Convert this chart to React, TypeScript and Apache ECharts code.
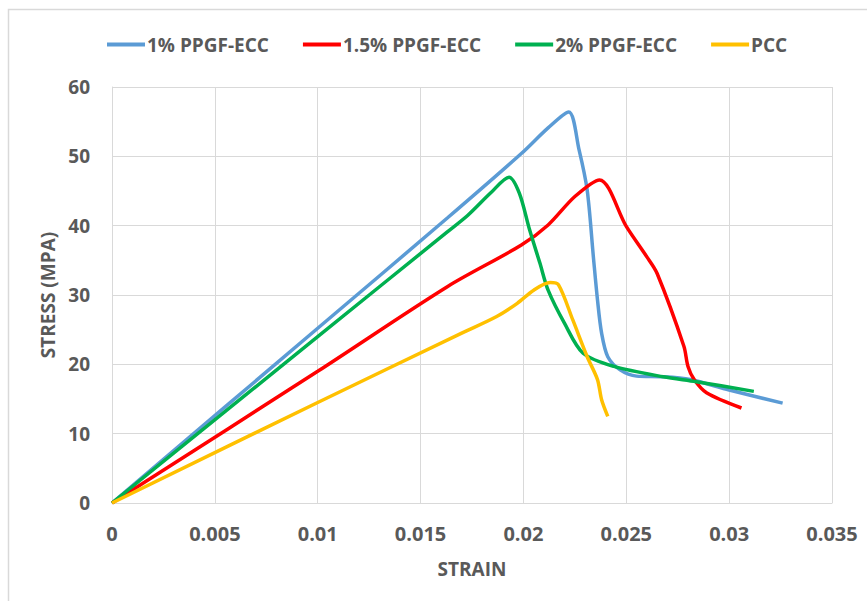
import React, { useEffect, useRef } from "react";
import * as echarts from "echarts";

const seriesNames = ["1% PPGF-ECC", "1.5% PPGF-ECC", "2% PPGF-ECC", "PCC"];
const colors = ["#5b9bd5", "#ff0000", "#00b050", "#ffc000"];

const ecc1: [number, number][] = [
  [0, 0], [0.01, 25.2], [0.0163, 41.1], [0.0199, 50.4], [0.0212, 54.1],
  [0.0222, 56.4], [0.0227, 51], [0.0231, 45.1], [0.0234, 35.5], [0.0236, 29.3],
  [0.0238, 24.5], [0.0241, 21.1], [0.0247, 19.2], [0.0255, 18.3], [0.0268, 18.2],
  [0.0281, 17.8], [0.03, 16.3], [0.0326, 14.4],
];
const ecc15: [number, number][] = [
  [0, 0], [0.01, 19], [0.0163, 31.2], [0.0199, 37.2], [0.0212, 40.1],
  [0.0225, 44.2], [0.0237, 46.6], [0.025, 39.9], [0.026, 35.5], [0.0265, 33.1],
  [0.0278, 22.6], [0.028, 19.7], [0.0283, 17.8], [0.0289, 15.9], [0.0306, 13.7],
];
const ecc2: [number, number][] = [
  [0, 0], [0.01, 24], [0.0163, 39.1], [0.0173, 41.5], [0.0184, 44.7],
  [0.0193, 47.0], [0.0198, 44.7], [0.0203, 39.4], [0.0208, 34.6], [0.0212, 30.7],
  [0.022, 25.9], [0.0229, 21.6], [0.0244, 19.7], [0.0268, 18.2], [0.0284, 17.5],
  [0.0312, 16.1],
];
const pcc: [number, number][] = [
  [0, 0], [0.01, 14.5], [0.017, 24.5], [0.0187, 26.9], [0.0197, 28.8],
  [0.0205, 30.7], [0.0213, 31.8], [0.0217, 31.5], [0.0224, 26.4], [0.0231, 21.1],
  [0.0236, 17.8], [0.0238, 14.9], [0.0241, 12.5],
];
const allData = [ecc1, ecc15, ecc2, pcc];

const xTicks = [0, 0.005, 0.01, 0.015, 0.02, 0.025, 0.03, 0.035];
const yTicks = [0, 10, 20, 30, 40, 50, 60];

const FONT = "'Open Sans', 'Liberation Sans', sans-serif";
const TEXT = "#595959";
const GRID = "#d9d9d9";

export default function App() {
  const ref = useRef<HTMLDivElement>(null);
  useEffect(() => {
    if (!ref.current) return;
    const chart = echarts.init(ref.current, undefined, { renderer: "svg" });
    chart.setOption({
      animation: false,
      backgroundColor: "#ffffff",
      textStyle: { fontFamily: FONT },
      graphic: [
        {
          type: "rect",
          shape: { x: 8.5, y: 9.5, width: 900, height: 700 },
          style: { fill: "none", stroke: "#d9d9d9", lineWidth: 1.5 },
          silent: true,
          z: -10,
        },
      ],
      legend: {
        top: 30,
        left: 102,
        itemWidth: 38,
        itemHeight: 4,
        itemGap: 34,
        icon: "rect",
        textStyle: { fontFamily: FONT, fontWeight: "bold", fontSize: 19, color: TEXT, padding: [0, 0, 0, -3] },
        data: seriesNames,
      },
      grid: { left: 112, right: 35, top: 87, bottom: 98 },
      xAxis: {
        type: "value",
        min: 0,
        max: 0.035,
        interval: 0.005,
        name: "STRAIN",
        nameLocation: "middle",
        nameGap: 56,
        nameTextStyle: { fontFamily: FONT, fontWeight: "bold", fontSize: 19, color: TEXT },
        axisLine: { show: true, lineStyle: { color: GRID } },
        axisTick: { show: false },
        axisLabel: {
          fontFamily: FONT, fontWeight: "bold", fontSize: 20, color: TEXT, margin: 20,
          formatter: (v: number) => {
            const t = xTicks.find((x) => Math.abs(x - v) < 1e-9);
            return t === undefined ? "" : String(t);
          },
        },
        splitLine: { show: true, lineStyle: { color: GRID } },
      },
      yAxis: {
        type: "value",
        min: 0,
        max: 60,
        interval: 10,
        name: "STRESS (MPA)",
        nameLocation: "middle",
        nameGap: 55,
        nameRotate: 90,
        nameTextStyle: { fontFamily: FONT, fontWeight: "bold", fontSize: 19, color: TEXT },
        axisLine: { show: true, lineStyle: { color: GRID } },
        axisTick: { show: false },
        axisLabel: {
          fontFamily: FONT, fontWeight: "bold", fontSize: 19, color: TEXT, margin: 22,
          formatter: (v: number) => (yTicks.includes(v) ? String(v) : ""),
        },
        splitLine: { show: true, lineStyle: { color: GRID } },
      },
      series: seriesNames.map((n, i) => ({
        name: n,
        type: "line",
        data: allData[i],
        smooth: 0.3,
        showSymbol: false,
        symbol: "none",
        color: colors[i],
        lineStyle: { width: 3.5, color: colors[i] },
        z: [2, 3, 4, 5][i],
      })),
    });
    return () => chart.dispose();
  }, []);
  return (
    <div
      ref={ref}
      style={{ position: "fixed", left: 0, top: 0, width: 867, height: 601 }}
    />
  );
}
